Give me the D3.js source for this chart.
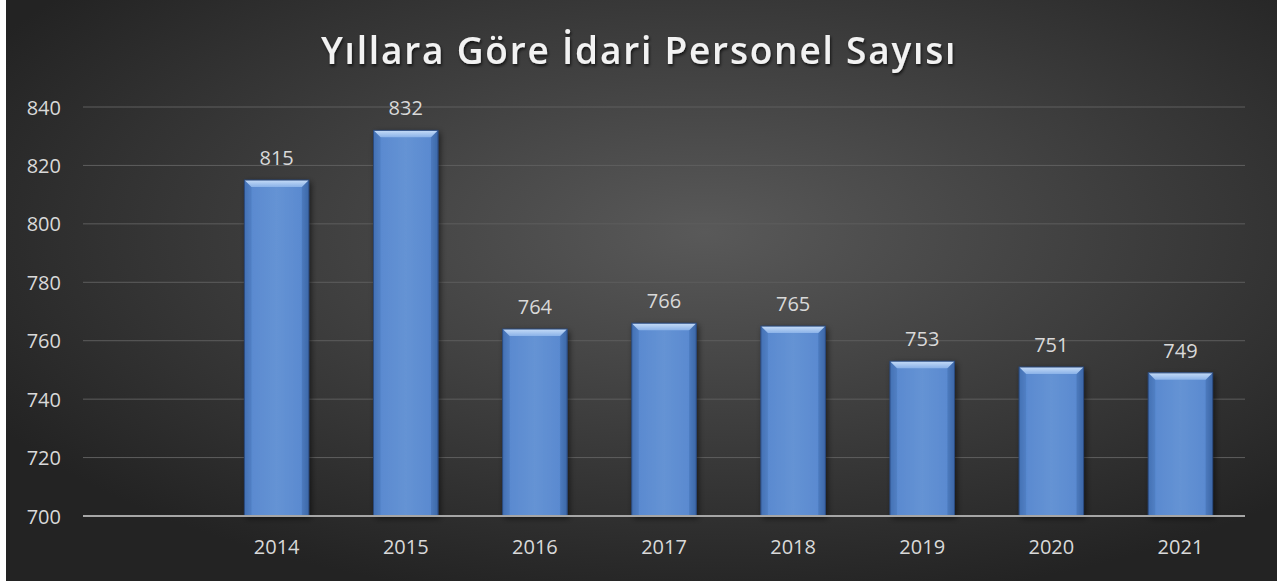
<!DOCTYPE html>
<html><head><meta charset="utf-8">
<script src="https://cdn.jsdelivr.net/npm/d3@7"></script>
<style>html,body{margin:0;padding:0;background:#fff;}svg{display:block;}</style>
</head><body>
<svg id="c" width="1287" height="581"></svg>
<script>
const categories = ["", "2014", "2015", "2016", "2017", "2018", "2019", "2020", "2021"];
const values = [null, 815, 832, 764, 766, 765, 753, 751, 749];
const yTicks = [700, 720, 740, 760, 780, 800, 820, 840];
const title = "Yıllara Göre İdari Personel Sayısı";

(function(){
const svg = d3.select("#c");
const W = 1287, H = 581;
const defs = svg.append("defs");

const bg = defs.append("radialGradient").attr("id","bg").attr("cx","55%").attr("cy","40%").attr("r","65%");
bg.append("stop").attr("offset","0%").attr("stop-color","#595959");
bg.append("stop").attr("offset","100%").attr("stop-color","#232323");

const bar = defs.append("linearGradient").attr("id","bar").attr("x1","0").attr("x2","1").attr("y1","0").attr("y2","0");
bar.append("stop").attr("offset","0%").attr("stop-color","#4774b8");
bar.append("stop").attr("offset","12%").attr("stop-color","#5a8ad0");
bar.append("stop").attr("offset","50%").attr("stop-color","#6593d4");
bar.append("stop").attr("offset","88%").attr("stop-color","#5a8ad0");
bar.append("stop").attr("offset","100%").attr("stop-color","#426eb0");

const bev = defs.append("linearGradient").attr("id","bev").attr("x1","0").attr("x2","0").attr("y1","0").attr("y2","1");
bev.append("stop").attr("offset","0%").attr("stop-color","#c6dcf7");
bev.append("stop").attr("offset","100%").attr("stop-color","#8ab2e8");

const sh = defs.append("filter").attr("id","sh").attr("x","-20%").attr("y","-20%").attr("width","140%").attr("height","140%");
sh.append("feDropShadow").attr("dx",2).attr("dy",2).attr("stdDeviation",3).attr("flood-color","#000").attr("flood-opacity",0.6);
const tsh = defs.append("filter").attr("id","tsh").attr("x","-5%").attr("y","-20%").attr("width","110%").attr("height","150%");
tsh.append("feDropShadow").attr("dx",1).attr("dy",2).attr("stdDeviation",1.5).attr("flood-color","#000").attr("flood-opacity",0.7);

svg.append("rect").attr("x",6).attr("y",0).attr("width",1271).attr("height",H).attr("fill","url(#bg)");

const pl = 83, pr = 1245, pt = 107, pb = 516;
const x = d3.scaleBand().domain(categories.map((c,i)=>i)).range([pl,pr]).paddingInner(0.5).paddingOuter(0.25);
const y = d3.scaleLinear().domain([700,840]).range([pb,pt]);

svg.append("g").selectAll("line").data(yTicks.slice(1)).join("line")
  .attr("x1",pl).attr("x2",pr).attr("y1",d=>y(d)).attr("y2",d=>y(d))
  .attr("stroke","#5e5e5e").attr("stroke-width",1);

const yAxis = d3.axisLeft(y).tickValues(yTicks).tickSize(0).tickPadding(0);
const gy = svg.append("g").attr("transform",`translate(61,0)`).call(yAxis);
gy.select(".domain").remove();
gy.selectAll("text").attr("fill","#d9d9d9").attr("font-family","'Open Sans', sans-serif").attr("font-size",20).attr("dy","0.35em");

const data = categories.map((c,i)=>({i, c, v: values[i]})).filter(d=>d.v!=null);
const bw = x.bandwidth();
const gb = svg.append("g");
data.forEach(d=>{
  const x0 = x(d.i), y0 = y(d.v), h = pb - y0;
  const g = gb.append("g");
  g.append("rect").attr("x",x0).attr("y",y0).attr("width",bw).attr("height",h).attr("fill","url(#bar)").attr("filter","url(#sh)");
  const b = 7;
  g.append("path").attr("d",`M${x0},${y0}L${x0+bw},${y0}L${x0+bw-b},${y0+b}L${x0+b},${y0+b}Z`).attr("fill","url(#bev)");
  g.append("path").attr("d",`M${x0},${y0}L${x0+b},${y0+b}L${x0+b},${pb}L${x0},${pb}Z`).attr("fill","#3b67a8").attr("opacity",0.25);
  g.append("path").attr("d",`M${x0+bw},${y0}L${x0+bw-b},${y0+b}L${x0+bw-b},${pb}L${x0+bw},${pb}Z`).attr("fill","#2c5390").attr("opacity",0.25);
  g.append("rect").attr("x",x0).attr("y",y0).attr("width",bw).attr("height",h).attr("fill","none").attr("stroke","#2a4a7e").attr("stroke-width",1);
});

svg.append("g").selectAll("text").data(data).join("text")
  .attr("x",d=>x(d.i)+bw/2).attr("y",d=>y(d.v)-15)
  .attr("text-anchor","middle").attr("fill","#d9d9d9")
  .attr("font-family","'Open Sans', sans-serif").attr("font-size",20)
  .text(d=>d.v);

svg.append("line").attr("x1",pl).attr("x2",pr).attr("y1",pb).attr("y2",pb)
  .attr("stroke","#a6a6a6").attr("stroke-width",2);
const xAxis = d3.axisBottom(x).tickFormat(i=>categories[i]).tickSize(0).tickPadding(0);
const gx = svg.append("g").attr("transform",`translate(0,${pb+31})`).call(xAxis);
gx.select(".domain").remove();
gx.selectAll("text").attr("fill","#d9d9d9").attr("font-family","'Open Sans', sans-serif").attr("font-size",20).attr("dy","0.35em");

svg.append("text").attr("x",639).attr("y",64).attr("text-anchor","middle")
  .attr("fill","#f2f2f2").attr("font-family","'Open Sans', sans-serif").attr("font-weight",600)
  .attr("font-size",37).attr("letter-spacing",1.8).attr("filter","url(#tsh)")
  .text(title);
})();
</script>
</body></html>
